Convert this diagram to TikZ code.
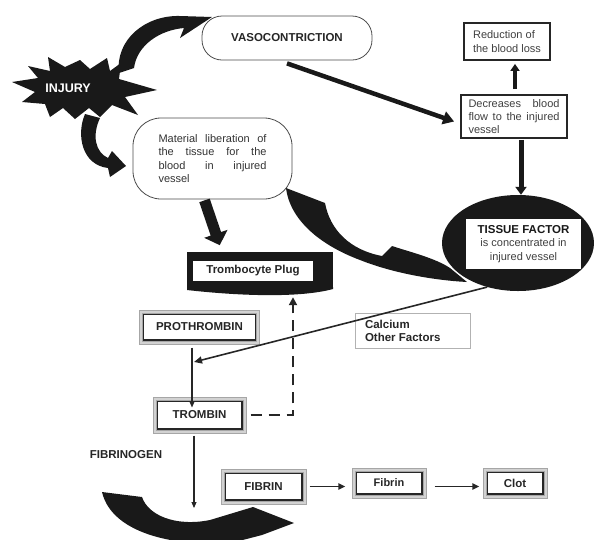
\documentclass[tikz,border=0pt]{standalone}
\usepackage{fontspec}
\setmainfont{Liberation Sans}
\usetikzlibrary{shapes.geometric,arrows.meta}
\newcommand{\bfnt}{\fontsize{11.5}{13}\selectfont\bfseries}
\newcommand{\rgfnt}{\fontsize{11}{13.3}\selectfont}
\begin{document}
\begin{tikzpicture}[x=1pt,y=-1pt,
  rbox/.style={draw=black!70, line width=0.8pt, fill=white, inner sep=0pt},
  dblbox/.style={draw=black!85, line width=1.1pt, fill=white, inner sep=0pt, font=\bfnt, text=black!85},
  ring/.style={draw=gray!70, line width=0.6pt, fill=gray!35, even odd rule},
  frbox/.style={draw=black!85, line width=1.8pt, fill=white, inner sep=0pt, font=\rgfnt, text=black!75},
  thinarr/.style={draw=black!85, line width=1.1pt, -{Triangle[length=6pt,width=5pt]}},
  blob/.style={fill=black!90}
]
\useasboundingbox (0,0) rectangle (594,539);
\clip (0,0) rectangle (594,539);

% ---- INJURY star ----
\fill[black!90] (12,82) -- (38,78) -- (28,66) -- (50,71) -- (48,57) -- (65,67) -- (80,60) -- (90,69)
  -- (107,58) -- (110,71) -- (121,63) -- (119,79) -- (157,90) -- (125,97) -- (138,115) -- (112,105)
  -- (100,117) -- (89,108) -- (75,119) -- (63,108) -- (50,117) -- (45,104) -- (22,102) -- (35,92) -- cycle;
\node[font=\fontsize{12.5}{14}\selectfont\bfseries, text=white] (injury) at (68,88) {INJURY};

% ---- swooshes from injury ----
\fill[blob] (119,73) .. controls (115,40) and (145,15) .. (180,16) -- (212,17) -- (180,38) -- (184,28)
  .. controls (160,30) and (137,45) .. (134,68) -- cycle;
\fill[blob] (85,114) .. controls (76,135) and (82,165) .. (108,168) -- (110,177) -- (126,166) -- (112,151)
  -- (108,158) .. controls (95,152) and (92,135) .. (100,118) -- cycle;

% ---- boxes top ----
\node[rbox, rounded corners=20pt, minimum width=170pt, minimum height=44pt, font=\bfnt, text=black!85] (vaso) at (287,38) {VASOCONTRICTION};

\node[rbox, rounded corners=28pt, minimum width=159pt, minimum height=81pt, font=\rgfnt, text=black!80, align=left] (mat) at (212.5,158.5)
  {\makebox[108pt][s]{Material liberation of}\\\makebox[108pt][s]{the tissue for the}\\\makebox[108pt][s]{blood in injured}\\vessel};

\node[frbox, minimum width=86pt, minimum height=37pt, align=left] (red) at (507,41.5) {Reduction of\\the blood loss};

\node[frbox, minimum width=106pt, minimum height=43pt, align=left] (dec) at (514,116.5)
  {\makebox[91pt][s]{Decreases blood}\\\makebox[91pt][s]{flow to the injured}\\vessel};

% ---- tissue factor ----
\node[ellipse, fill=black!90, minimum width=152pt, minimum height=96pt, inner sep=0pt] (tf) at (518,243) {};
\node[fill=white, minimum width=115pt, minimum height=50pt, inner sep=0pt, align=center, font=\rgfnt, text=black!75] (tfin) at (523.5,244)
  {{\bfnt\color{black!90}TISSUE FACTOR}\\is concentrated in\\injured vessel};

% ---- swoosh material -> tissue factor ----
\fill[blob] (286,188) -- (325,203) .. controls (330,230) and (350,250) .. (382,256) -- (392,246)
  .. controls (410,252) and (435,258) .. (450,268) -- (467,282) .. controls (430,280) and (390,272) .. (360,260)
  .. controls (320,245) and (290,220) .. (286,188) -- cycle;

% ---- trombocyte plug ----
\node[fill=black!90, minimum width=146pt, minimum height=36pt, inner sep=0pt] (plug) at (260,270) {};
\fill[black!90] (187,287) -- (333,287) -- (333,289) .. controls (300,298) and (240,296) .. (187,290) -- cycle;
\node[fill=white, minimum width=120pt, minimum height=20pt, inner sep=0pt, font=\bfnt, text=black!85] (plugin) at (253,271) {Trombocyte Plug};

% ---- lower boxes ----
\node[dblbox, minimum width=112pt, minimum height=26pt] (pro) at (199.5,327) {PROTHROMBIN};
\node[draw=gray!60, line width=0.8pt, fill=white, minimum width=115pt, minimum height=35pt, inner sep=0pt, font=\bfnt, text=black!85, align=left] (calc) at (412.5,330.5)
  {\makebox[95pt][l]{Calcium}\\\makebox[95pt][l]{Other Factors}};
\node[dblbox, minimum width=85pt, minimum height=28pt] (trom) at (199.5,415) {TROMBIN};
\node[font=\bfnt, text=black!85] (fibg) at (126,455) {FIBRINOGEN};
\node[dblbox, minimum width=77pt, minimum height=27pt] (fibrin) at (263.5,486.5) {FIBRIN};
\node[dblbox, minimum width=66pt, minimum height=22pt, font=\fontsize{11}{13}\selectfont\bfseries] (fib2) at (389,483) {Fibrin};
\node[dblbox, minimum width=56pt, minimum height=22pt] (clot) at (515,483) {Clot};
\foreach \n in {pro,trom,fibrin,fib2,clot}{
  \path[ring] ([shift={(-3.4pt,-3.4pt)}]\n.south west) rectangle ([shift={(3.4pt,3.4pt)}]\n.north east)
              ([shift={(-0.6pt,-0.6pt)}]\n.south west) rectangle ([shift={(0.6pt,0.6pt)}]\n.north east);
}

% ---- bottom swoosh ----
\fill[blob] (102,492) -- (142,497) .. controls (148,515) and (175,527) .. (210,520) -- (253,507) -- (294,523)
  -- (262,535) -- (235,542) .. controls (180,548) and (112,535) .. (102,492) -- cycle;

% ---- connectors ----
\draw[black!90, line width=4.5pt, -{Triangle[length=11pt,width=13pt]}] ([yshift=-3pt]vaso.south) -- ([xshift=-6pt,yshift=-5pt]dec.west);
\draw[black!90, line width=3.5pt, -{Triangle[length=7pt,width=9pt]}, shorten <=5pt, shorten >=3pt] ([xshift=8pt]dec.north -| red.south) -- ([xshift=8pt]red.south);
\draw[black!90, line width=5pt, -{Triangle[length=8pt,width=11pt]}, shorten <=1pt] ([xshift=7pt]dec.south) -- ([xshift=3pt]tf.north);
\draw[black!90, line width=11pt, -{Triangle[length=12pt,width=24pt]}, shorten >=7pt] ([xshift=-8pt,yshift=-1pt]mat.south) -- ([xshift=-38pt]plug.north);

\coordinate (join) at (194,362);
\coordinate (fibend) at (194,508);
\draw[thinarr] ([xshift=-7.5pt]pro.south) ++(0,7) -- ([xshift=-7.5pt,yshift=-7pt]trom.north);
\draw[black!85, line width=1.6pt, -{Triangle[length=8pt,width=7pt]}] (tf.-125) -- (join);
\draw[thinarr] ([xshift=-5.5pt,yshift=-6pt]trom.south) -- (fibend);
\draw[black!85, line width=2.4pt, dash pattern=on 11pt off 7pt, -{Triangle[length=8pt,width=8pt]}, shorten >=9pt]
  ([xshift=8pt]trom.east) -| ([xshift=33pt]plug.south);
\draw[black!85, line width=1.8pt, -{Triangle[length=7pt,width=6pt]}, shorten <=7pt, shorten >=10pt] (fibrin.east) -- (fibrin.east -| fib2.west);
\draw[black!85, line width=1.8pt, -{Triangle[length=7pt,width=6pt]}, shorten <=12pt, shorten >=7pt] (fibrin.east -| fib2.east) -- (fibrin.east -| clot.west);
\end{tikzpicture}
\end{document}
